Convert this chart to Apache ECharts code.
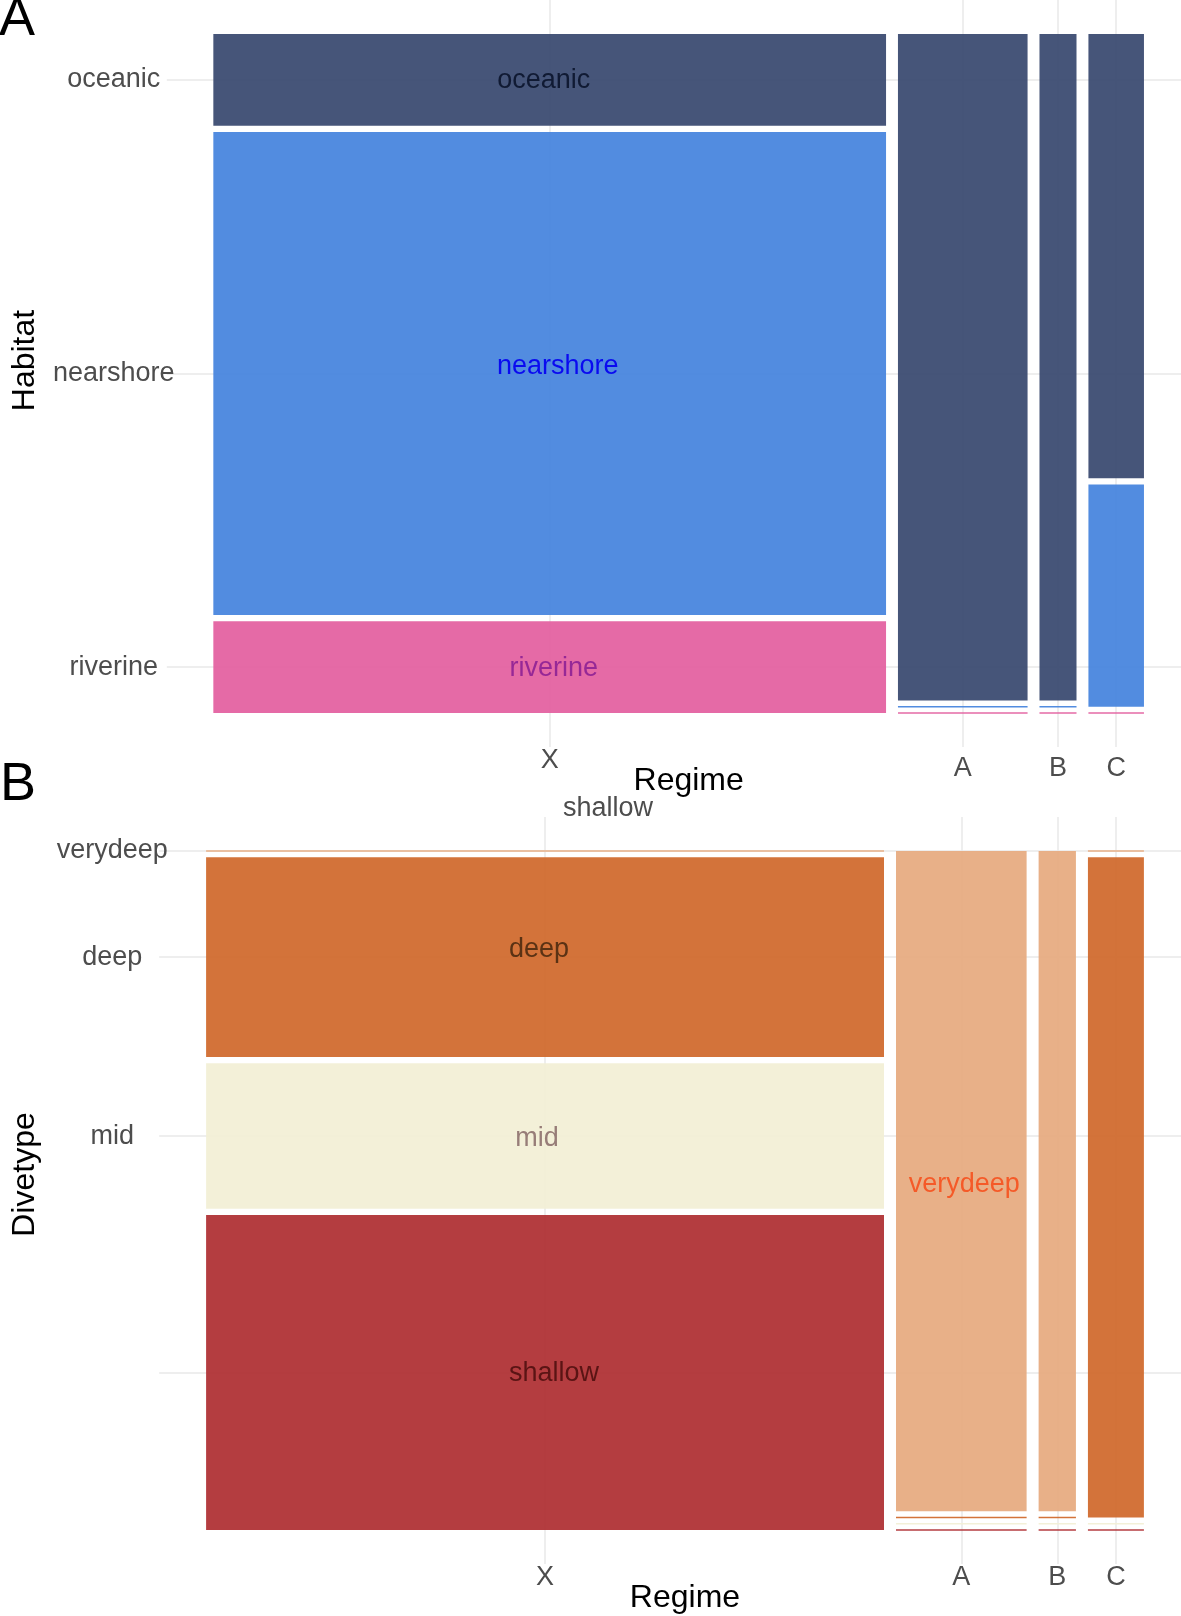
<!DOCTYPE html>
<html>
<head>
<meta charset="utf-8">
<title>Regime mosaic</title>
<script src="https://cdn.jsdelivr.net/npm/echarts@6/dist/echarts.min.js"></script>
<style>
  html, body { margin: 0; padding: 0; background: #fff; }
  #main { width: 1181px; height: 1616px; }
</style>
</head>
<body>
<div id="main"></div>
<script>
// columns of both mosaics, widths follow the column totals
var regimes = ['X', 'A', 'B', 'C'];

// panel A: counts per habitat (rows) in each regime (columns)
var habitats = ['oceanic', 'nearshore', 'riverine'];
var habitatCounts = [
  [15, 21, 6, 6],
  [79, 0, 0, 3],
  [15, 0, 0, 0]
];

// panel B: counts per dive type
var divetypes = ['verydeep', 'deep', 'mid', 'shallow'];
var diveCounts = [
  [0, 21, 6, 0],
  [33, 0, 0, 9],
  [24, 0, 0, 0],
  [52, 0, 0, 0]
];
// y tick labels of panel B (shallow has none in the original)
var diveTickLabels = ['verydeep', 'deep', 'mid', ''];

var habitatColors = ['#36466e', '#4382dd', '#e35d9e'];
var habitatTextColors = ['#101a33', '#0a0af0', '#962896'];
var diveColors = ['#e6a97e', '#cf6729', '#f2efd5', '#ae2c30'];
var diveTextColors = ['#f55a28', '#5a3214', '#977d78', '#5a1414'];
// small nudges (px) of the in-cell labels, as in the original
var habitatNudge = [[-6, 1], [8, -7], [4, 1]];
var diveNudge = [[3, 3], [-6, -8], [-8, 2], [9, 1]];

var FONT = '"Liberation Sans", Arial, Helvetica, sans-serif';
var X_GAP = 0.0128, Y_GAP = 0.0092;

// spine layout: columns split by totals, then rows inside each column
function mosaic(counts) {
  var nRow = counts.length, nCol = counts[0].length;
  var colTot = [], total = 0;
  for (var c = 0; c < nCol; c++) {
    var s = 0;
    for (var r = 0; r < nRow; r++) s += counts[r][c];
    colTot.push(s);
    total += s;
  }
  var xSpan = 1 - X_GAP * (nCol - 1);
  var ySpan = 1 - Y_GAP * (nRow - 1);
  var cells = [], xMid = [], yMid = [], labelled = [];
  var x = 0;
  for (c = 0; c < nCol; c++) {
    var w = colTot[c] / total * xSpan;
    var y = 0;
    for (r = 0; r < nRow; r++) {
      var h = counts[r][c] / colTot[c] * ySpan;
      var lab = counts[r][c] > 0 && !labelled[r];
      if (lab) labelled[r] = true;
      cells.push([x, x + w, y, y + h, r, lab ? 1 : 0]);
      if (c === 0) yMid.push(y + h / 2);
      y += h + Y_GAP;
    }
    xMid.push(x + w / 2);
    x += w + X_GAP;
  }
  return { cells: cells, xMid: xMid, yMid: yMid };
}

var mA = mosaic(habitatCounts);
var mB = mosaic(diveCounts);

function lookup(values, names) {
  return function (v) {
    for (var i = 0; i < values.length; i++) {
      if (Math.abs(values[i] - v) < 1e-7) return names[i];
    }
    return '';
  };
}

function makeRender(colors, textColors, names, nudge) {
  return function (params, api) {
    var p0 = api.coord([api.value(0), api.value(2)]);
    var p1 = api.coord([api.value(1), api.value(3)]);
    var r = api.value(4);
    var x = p0[0], w = p1[0] - p0[0];
    var y = p0[1], h = p1[1] - p0[1];
    if (h < 1.6) { y = y + h / 2 - 0.8; h = 1.6; }
    var kids = [{
      type: 'rect',
      shape: { x: x, y: y, width: w, height: h },
      style: { fill: colors[r], opacity: 0.92 }
    }];
    if (api.value(5)) {
      kids.push({
        type: 'text',
        style: {
          text: names[r], x: x + w / 2 + nudge[r][0], y: y + h / 2 + nudge[r][1],
          fill: textColors[r], fontSize: 27, fontFamily: FONT,
          align: 'center', verticalAlign: 'middle'
        }
      });
    }
    return { type: 'group', children: kids };
  };
}

var gridLine = { show: true, lineStyle: { color: '#e8e8e8', width: 1.5 } };
var labelStyle = { color: '#4d4d4d', fontSize: 27, fontFamily: FONT };

function xAxis(idx, m, lift) {
  var fmt = lookup(m.xMid, regimes);
  return {
    gridIndex: idx, type: 'value', min: -0.05, max: 1.05,
    axisLine: { show: false },
    axisTick: { show: false, customValues: m.xMid },
    axisLabel: Object.assign({}, labelStyle, {
      customValues: m.xMid, margin: 0,
      formatter: function (v) {
        var t = fmt(v);
        return lift && t !== 'X' ? '{lo|' + t + '}' : '{n|' + t + '}';
      },
      rich: {
        n: { fontSize: 27, color: '#4d4d4d', fontFamily: FONT },
        lo: { fontSize: 27, color: '#4d4d4d', fontFamily: FONT, padding: [8, 0, 0, 0] }
      }
    }),
    splitLine: gridLine,
    name: 'Regime', nameLocation: 'middle', nameGap: 18, nameMoveOverlap: false,
    nameTextStyle: { color: '#000', fontSize: 32, fontFamily: FONT, padding: [0, 0, 0, 20] }
  };
}

function yAxis(idx, m, names, title, margin, gap, shift) {
  return {
    gridIndex: idx, type: 'value', inverse: true, min: -0.05, max: 1.05,
    axisLine: { show: false },
    axisTick: { show: false, customValues: m.yMid },
    axisLabel: Object.assign({}, labelStyle, {
      customValues: m.yMid, margin: margin, align: 'center',
      formatter: lookup(m.yMid, names)
    }),
    splitLine: gridLine,
    name: title, nameLocation: 'middle', nameGap: gap, nameMoveOverlap: false,
    nameTextStyle: { color: '#000', fontSize: 32, fontFamily: FONT, padding: [0, 0, 0, shift] }
  };
}

var chart = echarts.init(document.getElementById('main'), null, { renderer: 'canvas' });

chart.setOption({
  backgroundColor: '#ffffff',
  animation: false,
  grid: [
    { left: 166.8, top: 0, width: 1023.7, height: 747, outerBoundsMode: 'none' },
    { left: 159.2, top: 817, width: 1031.6, height: 747, outerBoundsMode: 'none' }
  ],
  xAxis: [xAxis(0, mA, true), xAxis(1, mB, false)],
  yAxis: [
    yAxis(0, mA, habitats, 'Habitat', 53, 126, 26),
    yAxis(1, mB, diveTickLabels, 'Divetype', 47, 118, 32)
  ],
  series: [
    {
      type: 'custom', xAxisIndex: 0, yAxisIndex: 0,
      renderItem: makeRender(habitatColors, habitatTextColors, habitats, habitatNudge),
      data: mA.cells
    },
    {
      type: 'custom', xAxisIndex: 1, yAxisIndex: 1,
      renderItem: makeRender(diveColors, diveTextColors, divetypes, diveNudge),
      data: mB.cells
    }
  ],
  graphic: [
    { type: 'text', x: -1, y: 20, style: { text: 'A', fontSize: 54, fontFamily: FONT, fill: '#000', align: 'left', verticalAlign: 'middle' } },
    { type: 'text', x: 0, y: 785, style: { text: 'B', fontSize: 54, fontFamily: FONT, fill: '#000', align: 'left', verticalAlign: 'middle' } },
    { type: 'text', x: 608, y: 809, style: { text: 'shallow', fontSize: 27, fontFamily: FONT, fill: '#4d4d4d', align: 'center', verticalAlign: 'middle' } }
  ]
});
</script>
</body>
</html>
